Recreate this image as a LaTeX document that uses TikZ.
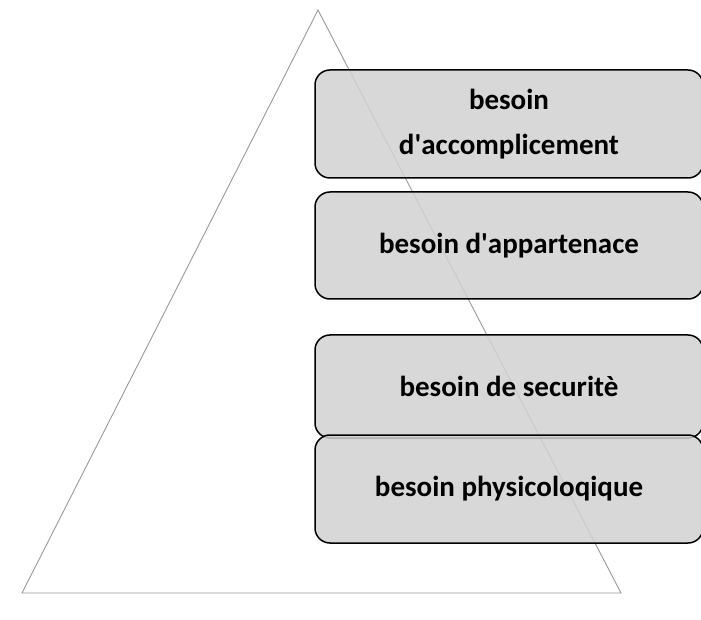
\documentclass[tikz,border=0pt]{standalone}
\usepackage{fontspec}
\setmainfont{Carlito}
\begin{document}
\begin{tikzpicture}[x=1pt,y=1pt,
  level/.style={draw=black, line width=1.5pt, rounded corners=15pt,
    fill=black!18, fill opacity=0.85, text opacity=1,
    minimum width=388pt, inner sep=0pt, align=center,
    font=\fontsize{29}{45}\selectfont\bfseries},
  edge/.style={draw=black!40, line width=0.9pt}]
\useasboundingbox (0,0) rectangle (701,619);
% pyramid outline
\coordinate (apex) at (318,609);
\coordinate (bl) at (22,26);
\coordinate (br) at (621,26);
\draw[edge] (bl) -- (apex) -- (br) -- cycle;
% need levels, from top to bottom
\node[level, minimum height=108pt] (acc) at (509,495) {besoin\\d\textquotesingle accomplicement};
\node[level, minimum height=107pt] (app) at (509,373.5) {besoin d\textquotesingle appartenace};
\node[level, minimum height=103pt] (sec) at (509,232.5) {besoin de securitè};
\node[level, minimum height=108pt] (phy) at (509,130) {besoin physicoloqique};
\end{tikzpicture}
\end{document}
